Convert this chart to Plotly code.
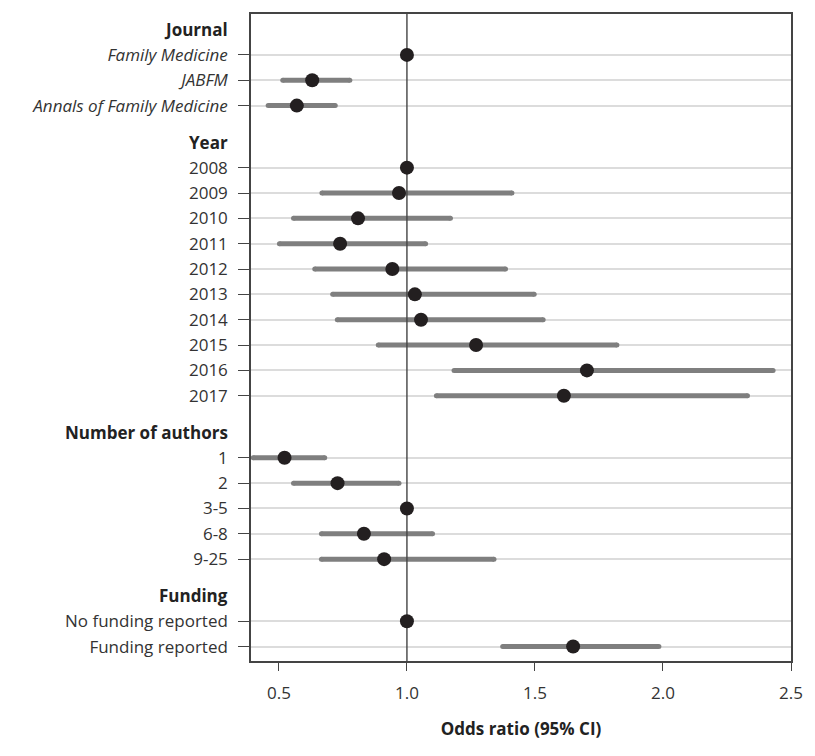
import plotly.graph_objects as go

# ---------------- data ----------------
journal_labels = ["<i>Family Medicine</i>", "<i>JABFM</i>", "<i>Annals of Family Medicine</i>"]
journal_or = [1.0, 0.63, 0.57]
journal_lo = [None, 0.515, 0.458]
journal_hi = [None, 0.777, 0.72]

year_labels = ["2008", "2009", "2010", "2011", "2012", "2013", "2014", "2015", "2016", "2017"]
year_or = [1.0, 0.969, 0.809, 0.739, 0.943, 1.031, 1.055, 1.27, 1.703, 1.613]
year_lo = [None, 0.668, 0.557, 0.502, 0.64, 0.71, 0.728, 0.888, 1.184, 1.115]
year_hi = [None, 1.41, 1.17, 1.073, 1.385, 1.497, 1.532, 1.82, 2.43, 2.33]

author_labels = ["1", "2", "3-5", "6-8", "9-25"]
author_or = [0.522, 0.729, 1.0, 0.832, 0.911]
author_lo = [0.40, 0.557, None, 0.666, 0.666]
author_hi = [0.679, 0.969, None, 1.10, 1.34]

funding_labels = ["No funding reported", "Funding reported"]
funding_or = [1.0, 1.649]
funding_lo = [None, 1.374]
funding_hi = [None, 1.984]

group_titles = ["Journal", "Year", "Number of authors", "Funding"]
groups = [
    (journal_labels, journal_or, journal_lo, journal_hi),
    (year_labels, year_or, year_lo, year_hi),
    (author_labels, author_or, author_lo, author_hi),
    (funding_labels, funding_or, funding_lo, funding_hi),
]

# ---------------- layout positions ----------------
GAP = 2.45
pos = 1.0
ypos, ylab, ors, los, his, header_pos = [], [], [], [], [], []
for gi, (labs, o, lo, hi) in enumerate(groups):
    if gi > 0:
        pos += GAP - 1
    header_pos.append(pos - 1)
    for i in range(len(labs)):
        ypos.append(pos)
        ylab.append(labs[i])
        ors.append(o[i])
        los.append(lo[i])
        his.append(hi[i])
        pos += 1
last = ypos[-1]
y_range = [last + 0.57, -0.615]

# CI segments and their end caps
cx, cy, ex, ey = [], [], [], []
for y, lo, hi in zip(ypos, los, his):
    if lo is not None:
        cx += [lo, hi, None]
        cy += [y, y, None]
        ex += [lo, hi]
        ey += [y, y]

FONT = "Open Sans, Noto Sans, sans-serif"
TXT = "#333333"
FS = 17
CI_COL = "#7f7f7f"

fig = go.Figure()
fig.add_trace(go.Scatter(x=cx, y=cy, mode="lines",
                         line=dict(color=CI_COL, width=5),
                         hoverinfo="skip", showlegend=False))
fig.add_trace(go.Scatter(x=ex, y=ey, mode="markers",
                         marker=dict(color=CI_COL, size=5, line=dict(width=0)),
                         hoverinfo="skip", showlegend=False))
fig.add_trace(go.Scatter(x=[1, 1], y=[y_range[0] + 1, y_range[1] - 1], mode="lines",
                         line=dict(color="#444444", width=1.4),
                         hoverinfo="skip", showlegend=False, cliponaxis=True))
fig.add_trace(go.Scatter(x=ors, y=ypos, mode="markers",
                         marker=dict(color="#231f20", size=14, line=dict(width=0)),
                         showlegend=False))

for t, hp in zip(group_titles, header_pos):
    fig.add_annotation(x=0, xref="paper", y=hp, yref="y", text="<b>" + t + "</b>",
                       showarrow=False, xanchor="right", yanchor="middle", xshift=-21,
                       font=dict(family=FONT, size=FS, color="#222222"))

fig.update_layout(
    width=815, height=748,
    margin=dict(l=251, r=13, t=14, b=70),
    paper_bgcolor="white", plot_bgcolor="white",
    font=dict(family=FONT, size=FS, color=TXT),
    xaxis=dict(range=[0.391, 2.5], tickvals=[0.5, 1.0, 1.5, 2.0, 2.5],
               ticktext=["0.5", "1.0", "1.5", "2.0", "2.5"],
               ticks="outside", ticklen=8, tickwidth=1.3, tickcolor="#444444",
               showgrid=False, zeroline=False, showline=True, linecolor="#444444",
               linewidth=1.5, mirror=True, ticklabelstandoff=8,
               title=dict(text="<b>Odds ratio (95% CI)</b>", standoff=20,
                          font=dict(family=FONT, size=FS, color="#222222"))),
    yaxis=dict(range=y_range, tickvals=ypos, ticktext=ylab,
               ticks="outside", ticklen=11, tickwidth=1.3, tickcolor="#444444",
               showgrid=True, gridcolor="#dcdcdc", gridwidth=1.5,
               zeroline=False, showline=True, linecolor="#444444",
               linewidth=1.5, mirror=True, ticklabelstandoff=7),
)

fig.write_html(
    "out.html",
    config={"displayModeBar": False},
    post_script=("document.body.style.margin='0px';"
                 "document.body.style.overflow='hidden';"
                 "document.documentElement.style.overflow='hidden';"),
)
